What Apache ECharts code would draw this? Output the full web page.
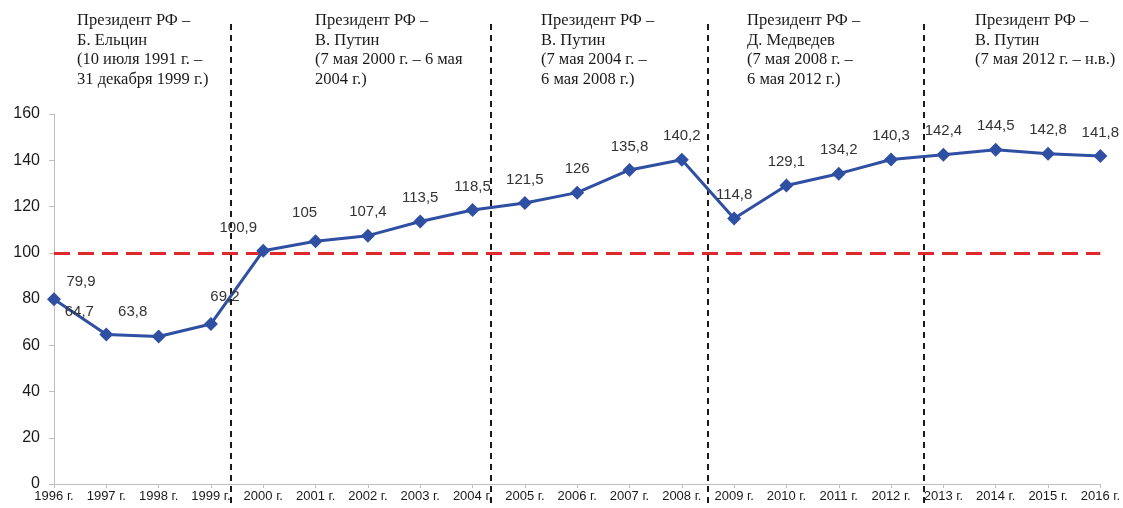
<!DOCTYPE html>
<html>
<head>
<meta charset="utf-8">
<script src="https://cdn.jsdelivr.net/npm/echarts@6/dist/echarts.min.js"></script>
<style>
  html, body { margin: 0; padding: 0; background: #fff; }
  #main { width: 1123px; height: 508px; }
</style>
</head>
<body>
<div id="main"></div>
<script>
// годы
var years = ["1996 г.", "1997 г.", "1998 г.", "1999 г.", "2000 г.", "2001 г.", "2002 г.",
  "2003 г.", "2004 г.", "2005 г.", "2006 г.", "2007 г.", "2008 г.", "2009 г.", "2010 г.",
  "2011 г.", "2012 г.", "2013 г.", "2014 г.", "2015 г.", "2016 г."];
// значения
var values = [79.9, 64.7, 63.8, 69.2, 100.9, 105, 107.4, 113.5, 118.5, 121.5, 126,
  135.8, 140.2, 114.8, 129.1, 134.2, 140.3, 142.4, 144.5, 142.8, 141.8];
var yTicks = [0, 20, 40, 60, 80, 100, 120, 140, 160];
var baseLevel = 100;
// границы президентских сроков (в долях шага по оси лет)
var termBorders = [3.38, 8.34, 12.48, 16.6];
var termTexts = [
  "Президент РФ –\nБ. Ельцин\n(10 июля 1991 г. –\n31 декабря 1999 г.)",
  "Президент РФ –\nВ. Путин\n(7 мая 2000 г. – 6 мая\n2004 г.)",
  "Президент РФ –\nВ. Путин\n(7 мая 2004 г. –\n6 мая 2008 г.)",
  "Президент РФ –\nД. Медведев\n(7 мая 2008 г. –\n6 мая 2012 г.)",
  "Президент РФ –\nВ. Путин\n(7 мая 2012 г. – н.в.)"
];
var termTextX = [77, 315, 541, 747, 975];

// сдвиги подписей для первых точек
var labelShift = { 0: [27, 6], 1: [-27, 1], 2: [-26, -1], 3: [14, -4], 4: [-25, 1], 5: [-11, -5] };

var myChart = echarts.init(document.getElementById("main"));

var seriesData = values.map(function (v, i) {
  var item = { value: v };
  if (labelShift[i]) {
    item.label = { offset: labelShift[i] };
  }
  return item;
});

myChart.setOption({
  animation: false,
  grid: [
    { left: 54, right: 21, top: 114, bottom: 24 },
    { left: 54, right: 21, top: 20, bottom: 5 }
  ],
  xAxis: [
    {
      type: "category",
      data: years,
      boundaryGap: false,
      gridIndex: 0,
      axisLine: { lineStyle: { color: "#bfbfbf" } },
      axisTick: { show: true, length: 4, lineStyle: { color: "#bfbfbf" } },
      axisLabel: {
        interval: 0,
        color: "#1a1a1a",
        fontFamily: "Liberation Sans",
        fontSize: 13,
        margin: 6
      }
    },
    { type: "value", gridIndex: 1, min: 0, max: 20, show: false }
  ],
  yAxis: [
    {
      type: "value",
      gridIndex: 0,
      min: yTicks[0],
      max: yTicks[yTicks.length - 1],
      interval: 20,
      splitLine: { show: false },
      axisLine: { show: true, lineStyle: { color: "#bfbfbf" } },
      axisTick: { show: true, length: 5, lineStyle: { color: "#bfbfbf" } },
      axisLabel: {
        color: "#1a1a1a",
        fontFamily: "Liberation Sans",
        fontSize: 16,
        margin: 14
      }
    },
    { type: "value", gridIndex: 1, min: 0, max: 1, show: false }
  ],
  graphic: termTexts.map(function (t, i) {
    return {
      type: "text",
      left: termTextX[i],
      top: 11,
      style: {
        text: t,
        fill: "#1a1a1a",
        font: "16.5px 'Liberation Serif'",
        lineHeight: 19.5
      }
    };
  }),
  series: [
    {
      type: "line",
      xAxisIndex: 0,
      yAxisIndex: 0,
      data: seriesData,
      symbol: "diamond",
      symbolSize: 14,
      z: 5,
      lineStyle: { color: "#2f4fa2", width: 3 },
      itemStyle: { color: "#2f4fa2" },
      label: {
        show: true,
        position: "top",
        distance: 9,
        color: "#333",
        fontFamily: "Liberation Sans",
        fontSize: 15,
        formatter: function (p) {
          return String(p.value).replace(".", ",");
        }
      },
      markLine: {
        silent: true,
        symbol: "none",
        label: { show: false },
        lineStyle: { color: "#e0282d", width: 3, type: [16, 8] },
        data: [{ yAxis: baseLevel }]
      }
    },
    {
      type: "line",
      xAxisIndex: 1,
      yAxisIndex: 1,
      data: [],
      markLine: {
        silent: true,
        symbol: "none",
        label: { show: false },
        lineStyle: { color: "#1a1a1a", width: 2, type: [6, 5] },
        data: termBorders.map(function (b) { return { xAxis: b }; })
      }
    }
  ]
});
</script>
</body>
</html>
